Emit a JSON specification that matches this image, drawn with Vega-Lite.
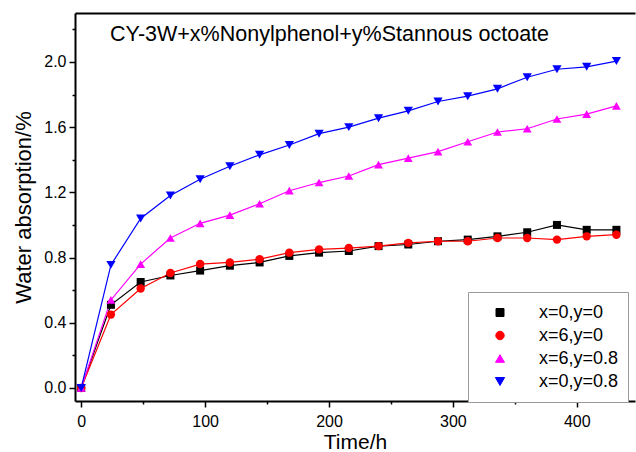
{
  "$schema": "https://vega.github.io/schema/vega-lite/v6.json",
  "width": 560,
  "height": 388,
  "autosize": {"type": "none"},
  "padding": {"left": 75, "top": 13, "right": 1, "bottom": 51},
  "config": {
    "view": {"stroke": null},
    "font": "Liberation Sans",
    "axis": {"grid": false, "domainColor": "#000000", "tickColor": "#000000", "labelColor": "#000000", "titleColor": "#000000", "labelFont": "Liberation Sans", "titleFont": "Liberation Sans", "titleFontWeight": "normal"}
  },
  "title": {
    "text": "CY-3W+x%Nonylphenol+y%Stannous octoate",
    "anchor": "start", "frame": "group", "orient": "top", "offset": -49,
    "baseline": "alphabetic", "dx": 35,
    "fontSize": 21.5, "fontWeight": "normal", "color": "#000000", "font": "Liberation Sans"
  },
  "data": {"values": [
    {"t": 0, "v": 0, "s": "x=0,y=0"}, {"t": 24, "v": 0.51, "s": "x=0,y=0"}, {"t": 48, "v": 0.65, "s": "x=0,y=0"}, {"t": 72, "v": 0.69, "s": "x=0,y=0"}, {"t": 96, "v": 0.72, "s": "x=0,y=0"}, {"t": 120, "v": 0.75, "s": "x=0,y=0"}, {"t": 144, "v": 0.77, "s": "x=0,y=0"}, {"t": 168, "v": 0.81, "s": "x=0,y=0"}, {"t": 192, "v": 0.83, "s": "x=0,y=0"}, {"t": 216, "v": 0.84, "s": "x=0,y=0"}, {"t": 240, "v": 0.87, "s": "x=0,y=0"}, {"t": 264, "v": 0.88, "s": "x=0,y=0"}, {"t": 288, "v": 0.9, "s": "x=0,y=0"}, {"t": 312, "v": 0.91, "s": "x=0,y=0"}, {"t": 336, "v": 0.93, "s": "x=0,y=0"}, {"t": 360, "v": 0.955, "s": "x=0,y=0"}, {"t": 384, "v": 1.0, "s": "x=0,y=0"}, {"t": 408, "v": 0.97, "s": "x=0,y=0"}, {"t": 432, "v": 0.97, "s": "x=0,y=0"},
    {"t": 0, "v": 0, "s": "x=6,y=0"}, {"t": 24, "v": 0.45, "s": "x=6,y=0"}, {"t": 48, "v": 0.61, "s": "x=6,y=0"}, {"t": 72, "v": 0.705, "s": "x=6,y=0"}, {"t": 96, "v": 0.76, "s": "x=6,y=0"}, {"t": 120, "v": 0.77, "s": "x=6,y=0"}, {"t": 144, "v": 0.79, "s": "x=6,y=0"}, {"t": 168, "v": 0.83, "s": "x=6,y=0"}, {"t": 192, "v": 0.85, "s": "x=6,y=0"}, {"t": 216, "v": 0.858, "s": "x=6,y=0"}, {"t": 240, "v": 0.87, "s": "x=6,y=0"}, {"t": 264, "v": 0.89, "s": "x=6,y=0"}, {"t": 288, "v": 0.9, "s": "x=6,y=0"}, {"t": 312, "v": 0.9, "s": "x=6,y=0"}, {"t": 336, "v": 0.92, "s": "x=6,y=0"}, {"t": 360, "v": 0.92, "s": "x=6,y=0"}, {"t": 384, "v": 0.91, "s": "x=6,y=0"}, {"t": 408, "v": 0.93, "s": "x=6,y=0"}, {"t": 432, "v": 0.94, "s": "x=6,y=0"},
    {"t": 0, "v": 0, "s": "x=6,y=0.8"}, {"t": 24, "v": 0.54, "s": "x=6,y=0.8"}, {"t": 48, "v": 0.76, "s": "x=6,y=0.8"}, {"t": 72, "v": 0.92, "s": "x=6,y=0.8"}, {"t": 96, "v": 1.01, "s": "x=6,y=0.8"}, {"t": 120, "v": 1.06, "s": "x=6,y=0.8"}, {"t": 144, "v": 1.13, "s": "x=6,y=0.8"}, {"t": 168, "v": 1.21, "s": "x=6,y=0.8"}, {"t": 192, "v": 1.26, "s": "x=6,y=0.8"}, {"t": 216, "v": 1.3, "s": "x=6,y=0.8"}, {"t": 240, "v": 1.37, "s": "x=6,y=0.8"}, {"t": 264, "v": 1.41, "s": "x=6,y=0.8"}, {"t": 288, "v": 1.45, "s": "x=6,y=0.8"}, {"t": 312, "v": 1.51, "s": "x=6,y=0.8"}, {"t": 336, "v": 1.57, "s": "x=6,y=0.8"}, {"t": 360, "v": 1.59, "s": "x=6,y=0.8"}, {"t": 384, "v": 1.65, "s": "x=6,y=0.8"}, {"t": 408, "v": 1.68, "s": "x=6,y=0.8"}, {"t": 432, "v": 1.73, "s": "x=6,y=0.8"},
    {"t": 0, "v": 0, "s": "x=0,y=0.8"}, {"t": 24, "v": 0.755, "s": "x=0,y=0.8"}, {"t": 48, "v": 1.04, "s": "x=0,y=0.8"}, {"t": 72, "v": 1.18, "s": "x=0,y=0.8"}, {"t": 96, "v": 1.28, "s": "x=0,y=0.8"}, {"t": 120, "v": 1.36, "s": "x=0,y=0.8"}, {"t": 144, "v": 1.43, "s": "x=0,y=0.8"}, {"t": 168, "v": 1.49, "s": "x=0,y=0.8"}, {"t": 192, "v": 1.56, "s": "x=0,y=0.8"}, {"t": 216, "v": 1.6, "s": "x=0,y=0.8"}, {"t": 240, "v": 1.655, "s": "x=0,y=0.8"}, {"t": 264, "v": 1.7, "s": "x=0,y=0.8"}, {"t": 288, "v": 1.757, "s": "x=0,y=0.8"}, {"t": 312, "v": 1.79, "s": "x=0,y=0.8"}, {"t": 336, "v": 1.835, "s": "x=0,y=0.8"}, {"t": 360, "v": 1.906, "s": "x=0,y=0.8"}, {"t": 384, "v": 1.955, "s": "x=0,y=0.8"}, {"t": 408, "v": 1.97, "s": "x=0,y=0.8"}, {"t": 432, "v": 2.005, "s": "x=0,y=0.8"}
  ]},
  "layer": [
    {
      "mark": {"type": "line", "strokeWidth": 1.2},
      "encoding": {
        "x": {"field": "t", "type": "quantitative", "scale": {"domain": [-5, 447], "nice": false, "zero": false},
              "axis": {"orient": "bottom", "values": [0, 100, 200, 300, 400], "tickSize": 6, "tickWidth": 1.5, "domainWidth": 2, "labelFontSize": 16, "labelPadding": 6, "title": "Time/h", "titleFontSize": 21, "titlePadding": 2}},
        "y": {"field": "v", "type": "quantitative", "scale": {"domain": [-0.08, 2.3], "nice": false, "zero": false},
              "axis": {"orient": "left", "values": [0, 0.4, 0.8, 1.2, 1.6, 2.0], "format": ".1f", "tickSize": 6, "tickWidth": 1.5, "domainWidth": 2, "labelFontSize": 16, "labelPadding": 3, "title": "Water absorption/%", "titleFontSize": 22, "titlePadding": 8}},
        "color": {"field": "s", "type": "nominal", "sort": ["x=0,y=0", "x=6,y=0", "x=6,y=0.8", "x=0,y=0.8"],
                  "scale": {"domain": ["x=0,y=0", "x=6,y=0", "x=6,y=0.8", "x=0,y=0.8"], "range": ["#000000", "#ff0000", "#ff00ff", "#0000ff"]},
                  "legend": {
                    "orient": "none", "legendX": 393, "legendY": 279, "title": null,
                    "padding": 9, "strokeColor": "#999999", "fillColor": "#ffffff",
                    "clipHeight": 23, "rowPadding": 0, "symbolOffset": 14, "labelOffset": 30,
                    "labelFont": "Liberation Sans", "labelFontSize": 18, "labelColor": "#000000",
                    "encode": {"symbols": {"update": {
                      "strokeWidth": {"value": 1},
                      "opacity": {"value": 1}
                    }}}
                  }}
      }
    },
    {
      "mark": {"type": "point", "filled": true, "opacity": 1},
      "encoding": {
        "x": {"field": "t", "type": "quantitative",
              "axis": {"orient": "bottom", "values": [50, 150, 250, 350], "tickSize": 3, "tickWidth": 1.5, "domain": false, "labels": false, "title": null}},
        "y": {"field": "v", "type": "quantitative",
              "axis": {"orient": "left", "values": [0.2, 0.6, 1.0, 1.4, 1.8, 2.2], "tickSize": 3, "tickWidth": 1.5, "domain": false, "labels": false, "title": null}},
        "color": {"field": "s", "type": "nominal"},
        "shape": {"field": "s", "type": "nominal",
                  "scale": {"domain": ["x=0,y=0", "x=6,y=0", "x=6,y=0.8", "x=0,y=0.8"], "range": ["square", "circle", "triangle-up", "triangle-down"]}, "legend": null},
        "size": {"field": "s", "type": "nominal",
                 "scale": {"domain": ["x=0,y=0", "x=6,y=0", "x=6,y=0.8", "x=0,y=0.8"], "range": [64, 85, 115, 115]}, "legend": null}
      }
    },
    {
      "mark": {"type": "point", "opacity": 0},
      "encoding": {
        "x": {"field": "t", "type": "quantitative",
              "axis": {"orient": "top", "domainWidth": 2, "ticks": false, "labels": false, "title": null}},
        "y": {"field": "v", "type": "quantitative", "axis": null}
      }
    }
  ],
  "resolve": {"axis": {"x": "independent", "y": "independent"}}
}
